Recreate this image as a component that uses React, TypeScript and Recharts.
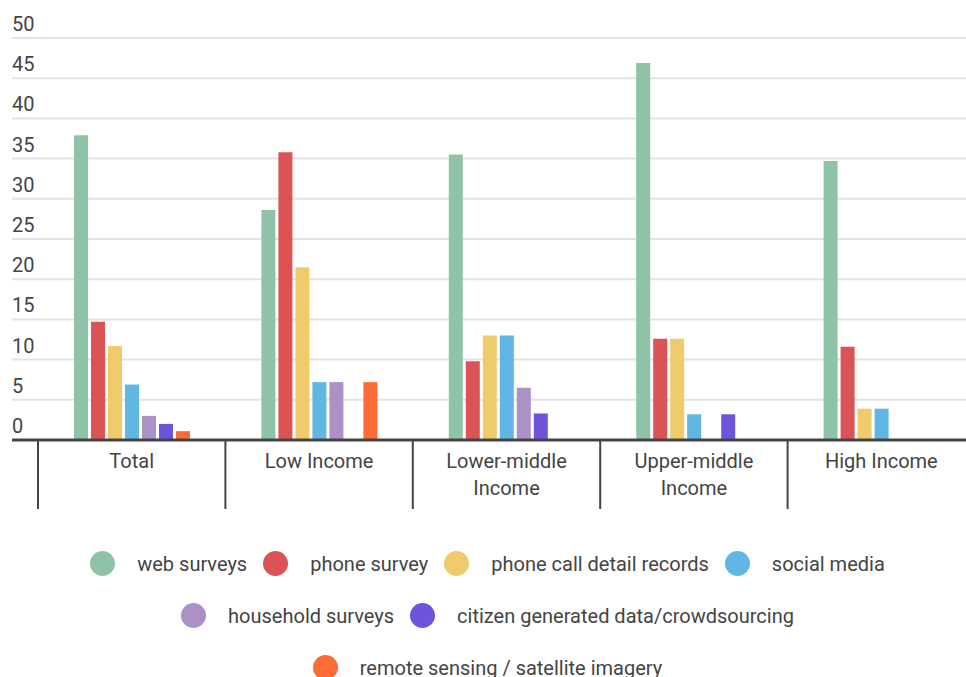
import React from 'react';
import { BarChart, Bar, XAxis, YAxis, CartesianGrid, Legend } from 'recharts';

const categories = ['Total', 'Low Income', 'Lower-middle Income', 'Upper-middle Income', 'High Income'];
const categoryLabelLines = [['Total'], ['Low Income'], ['Lower-middle', 'Income'], ['Upper-middle', 'Income'], ['High Income']];
const webSurveys = [37.9, 28.6, 35.5, 46.9, 34.7];
const phoneSurvey = [14.7, 35.8, 9.8, 12.6, 11.6];
const phoneCallDetailRecords = [11.7, 21.5, 13.0, 12.6, 3.9];
const socialMedia = [6.9, 7.2, 13.0, 3.2, 3.9];
const householdSurveys = [3.0, 7.2, 6.5, 0, 0];
const citizenGenerated = [2.0, 0, 3.3, 3.2, 0];
const remoteSensing = [1.1, 7.2, 0, 0, 0];
const yTicks = [0, 5, 10, 15, 20, 25, 30, 35, 40, 45, 50];

const seriesKeys = ['web', 'phone', 'cdr', 'social', 'household', 'citizen', 'remote'];
const seriesNames = [
  'web surveys',
  'phone survey',
  'phone call detail records',
  'social media',
  'household surveys',
  'citizen generated data/crowdsourcing',
  'remote sensing / satellite imagery',
];
const seriesColors = ['#8FC3A8', '#DC5356', '#EFCB6B', '#60B7E4', '#AB91C8', '#6E54DC', '#FF6B35'];
const seriesValues = [webSurveys, phoneSurvey, phoneCallDetailRecords, socialMedia, householdSurveys, citizenGenerated, remoteSensing];

const data = categories.map((c, i) => {
  const row: any = { category: c };
  seriesKeys.forEach((k, j) => {
    row[k] = seriesValues[j][i];
  });
  return row;
});

const FONT = 'Roboto, sans-serif';
const TEXT_COLOR = '#444';

const YTick = (props: any) => {
  const { x, y, payload } = props;
  return (
    <text x={x} y={y - 7} textAnchor="start" fill={TEXT_COLOR} fontSize={20} fontFamily={FONT}>
      {payload.value}
    </text>
  );
};

const XTick = (props: any) => {
  const { x, y, payload, index } = props;
  const half = payload && typeof payload.offset === 'number' && payload.offset > 0 ? payload.offset : 93.7;
  const idx = categories.indexOf(payload.value);
  const lines = idx >= 0 ? categoryLabelLines[idx] : [String(payload.value)];
  return (
    <g>
      <line x1={x - half} y1={y} x2={x - half} y2={y + 69} stroke="#444" strokeWidth={2} />
      <text x={x} y={y + 28} textAnchor="middle" fill={TEXT_COLOR} fontSize={20} fontFamily={FONT}>
        {lines.map((l: string, i: number) => (
          <tspan key={i} x={x} dy={i === 0 ? 0 : 27}>
            {l}
          </tspan>
        ))}
      </text>
    </g>
  );
};

const renderLegend = (props: any) => {
  const payload = [...(props.payload || [])].sort(
    (a: any, b: any) => seriesNames.indexOf(a.value) - seriesNames.indexOf(b.value)
  );
  return (
    <div
      style={{
        display: 'flex',
        flexWrap: 'wrap',
        justifyContent: 'center',
        columnGap: 16,
        rowGap: 27,
        maxWidth: 830,
        margin: '0 auto',
        fontFamily: FONT,
        fontSize: 20,
        color: TEXT_COLOR,
      }}
    >
      {payload.map((p: any) => (
        <div key={p.value} style={{ display: 'flex', alignItems: 'center', height: 25, whiteSpace: 'nowrap' }}>
          <span
            style={{
              width: 25,
              height: 25,
              borderRadius: '50%',
              background: p.color,
              marginRight: 22,
              display: 'inline-block',
            }}
          />
          <span>{p.value}</span>
        </div>
      ))}
    </div>
  );
};

export default function App() {
  return (
    <div style={{ position: 'absolute', left: 0, top: 0 }}>
      <BarChart
        width={975}
        height={700}
        data={data}
        margin={{ top: 38, right: 0, left: 0, bottom: 0 }}
        barSize={14}
        barGap={3}
      >
        <CartesianGrid vertical={false} stroke="#e3e3e3" strokeWidth={2} />
        <YAxis
          domain={[0, 50]}
          ticks={yTicks}
          width={12}
          axisLine={false}
          tickLine={false}
          tickSize={0}
          tickMargin={0}
          tick={<YTick />}
          interval={0}
        />
        <XAxis
          dataKey="category"
          height={260}
          padding={{ left: 26, right: 0 }}
          axisLine={{ stroke: '#444', strokeWidth: 3 }}
          tickLine={false}
          tickSize={0}
          tickMargin={0}
          tick={<XTick />}
          interval={0}
        />
        <Legend
          content={renderLegend}
          wrapperStyle={{ top: 551, left: 0, width: 975, bottom: 'auto', height: 0 }}
        />
        {seriesKeys.map((k, j) => (
          <Bar key={k} dataKey={k} name={seriesNames[j]} fill={seriesColors[j]} isAnimationActive={false} />
        ))}
      </BarChart>
    </div>
  );
}
